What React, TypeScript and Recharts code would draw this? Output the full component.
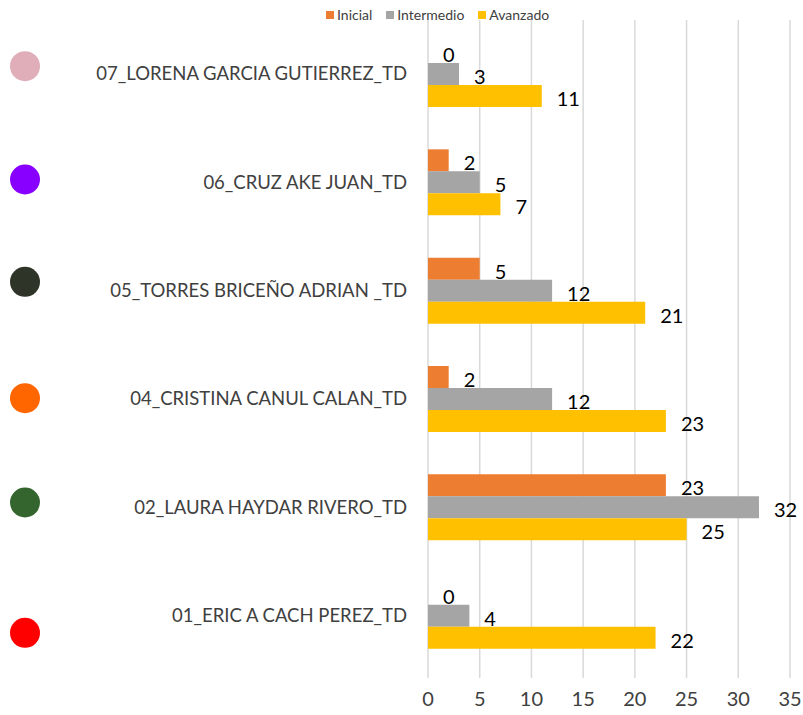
import React from "react";
import {
  BarChart,
  Bar,
  XAxis,
  YAxis,
  CartesianGrid,
  LabelList
} from "recharts";

const docentes = [
  "07_LORENA GARCIA GUTIERREZ_TD",
  "06_CRUZ AKE JUAN_TD",
  "05_TORRES BRICEÑO ADRIAN _TD",
  "04_CRISTINA CANUL CALAN_TD",
  "02_LAURA HAYDAR RIVERO_TD",
  "01_ERIC A CACH PEREZ_TD"
];

const inicial = [0, 2, 5, 2, 23, 0];
const intermedio = [3, 5, 12, 12, 32, 4];
const avanzado = [11, 7, 21, 23, 25, 22];

const xTicks = [0, 5, 10, 15, 20, 25, 30, 35];

const series = [
  { key: "inicial", name: "Inicial", color: "#ED7D31" },
  { key: "intermedio", name: "Intermedio", color: "#A5A5A5" },
  { key: "avanzado", name: "Avanzado", color: "#FFC000" }
];

// decorative dots left of each name (from the original slide)
const dotColors = ["#E0AEB8", "#8800FF", "#2F3428", "#FF6600", "#35652E", "#FF0000"];
const dotShift = [-8, -3, -9, -1, -5, 17];

const data = docentes.map((name, i) => ({
  name,
  inicial: inicial[i],
  intermedio: intermedio[i],
  avanzado: avanzado[i]
}));

const FONT = "Lato, 'Open Sans', sans-serif";

const NameTick = (props: any) => {
  const { x, y, payload, index } = props;
  return (
    <g>
      <circle cx={25} cy={y + dotShift[index]} r={15} fill={dotColors[index]} />
      <text
        x={x}
        y={y}
        dy={6}
        textAnchor="end"
        fill="#404040"
        fontSize={18.5}
        fontFamily={FONT}
      >
        {payload.value}
      </text>
    </g>
  );
};

const App: React.FC = () => {
  return (
    <div style={{ position: "absolute", left: 0, top: 0, width: 803, height: 715, background: "#fff" }}>
      <div
        style={{
          position: "absolute",
          top: 6,
          left: 326,
          display: "flex",
          gap: 14,
          fontFamily: FONT,
          fontSize: 14,
          color: "#404040",
          zIndex: 2
        }}
      >
        {series.map((s) => (
          <div key={s.key} style={{ display: "flex", alignItems: "center", gap: 3 }}>
            <span style={{ width: 8, height: 8, background: s.color, display: "inline-block" }} />
            <span>{s.name}</span>
          </div>
        ))}
      </div>
      <BarChart
        width={803}
        height={715}
        data={data}
        layout="vertical"
        margin={{ top: 20, right: 13, left: 0, bottom: 0 }}
        barGap={0}
      >
        <CartesianGrid horizontal={false} stroke="#D9D9D9" strokeWidth={1.5} />
        <XAxis
          type="number"
          domain={[0, 35]}
          ticks={xTicks}
          interval={0}
          axisLine={false}
          tickLine={{ stroke: "#D9D9D9", strokeWidth: 1.5 }}
          tickSize={8}
          height={45}
          tick={{ fill: "#404040", fontSize: 20, fontFamily: FONT }}
          tickMargin={14}
        />
        <YAxis
          type="category"
          dataKey="name"
          width={428}
          axisLine={false}
          tickLine={false}
          tickMargin={15}
          tick={<NameTick />}
          interval={0}
        />
        {series.map((s) => (
          <Bar
            key={s.key}
            dataKey={s.key}
            name={s.name}
            fill={s.color}
            barSize={22}
            minPointSize={0.01}
            isAnimationActive={false}
          >
            <LabelList
              dataKey={s.key}
              position="right"
              offset={15}
              fill="#000"
              fontSize={20}
              fontFamily={FONT}
              dy={3}
            />
          </Bar>
        ))}
      </BarChart>
    </div>
  );
};

export default App;
